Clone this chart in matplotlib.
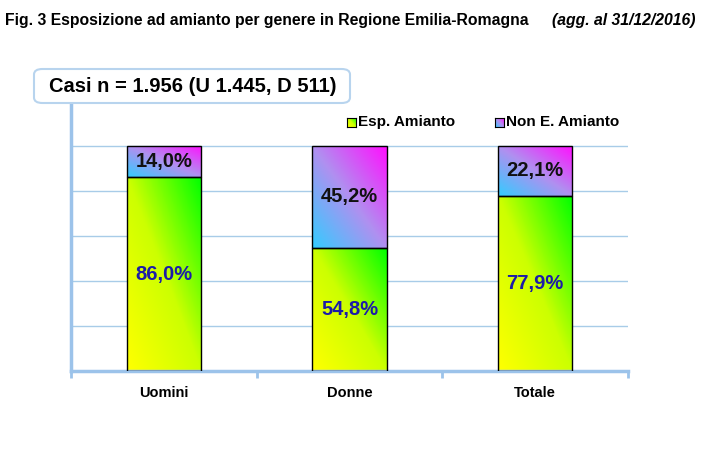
import numpy as np
import matplotlib.pyplot as plt
from matplotlib.colors import LinearSegmentedColormap
from matplotlib.patches import Rectangle, FancyBboxPatch

plt.rcParams['font.family'] = ['Liberation Sans', 'DejaVu Sans']

categories = ['Uomini', 'Donne', 'Totale']
esp_amianto = [86.0, 54.8, 77.9]
non_amianto = [14.0, 45.2, 22.1]
labels_esp = ['86,0%', '54,8%', '77,9%']
labels_non = ['14,0%', '45,2%', '22,1%']

cmap_esp = LinearSegmentedColormap.from_list('esp', ['#ffff00', '#ccff00', '#00ff00'])
cmap_non = LinearSegmentedColormap.from_list('non', ['#33ccff', '#b090f0', '#ff10ff'])

W, H = 708, 454
fig = plt.figure(figsize=(W / 100, H / 100), dpi=100)
ax = fig.add_axes([71 / W, (H - 371) / H, 557 / W, 271 / H])

# diagonal gradient (bottom-left -> top-right)
gx, gy = np.meshgrid(np.linspace(0, 1, 60), np.linspace(0, 1, 120))
grad = (gx + gy) / 2

bw = 0.4
for i in range(len(categories)):
    x0 = i - bw / 2
    segs = [(0, esp_amianto[i], cmap_esp), (esp_amianto[i], esp_amianto[i] + non_amianto[i], cmap_non)]
    for y0, y1, cm in segs:
        im = ax.imshow(grad, cmap=cm, origin='lower', aspect='auto',
                       extent=(x0, x0 + bw, y0, y1), zorder=2, interpolation='bilinear')
        r = Rectangle((x0, y0), bw, y1 - y0, facecolor='none', edgecolor='black', lw=1.0, zorder=3)
        ax.add_patch(r)
        im.set_clip_path(r)
    ax.text(i, esp_amianto[i] / 2, labels_esp[i], ha='center', va='center',
            fontsize=14.5, fontweight='bold', color='#1c1ca8', zorder=4)
    ax.text(i, esp_amianto[i] + non_amianto[i] / 2, labels_non[i], ha='center', va='center',
            fontsize=14.5, fontweight='bold', color='#111111', zorder=4)

ax.set_xlim(-0.5, 2.5)
ax.set_ylim(0, 120.4)
ax.set_yticks([0, 20, 40, 60, 80, 100])
ax.set_yticklabels([])
ax.tick_params(axis='y', length=0)
ax.grid(axis='y', color='#a8cce8', lw=1, zorder=0)
ax.set_xticks(range(len(categories)))
ax.set_xticklabels(categories, fontsize=10.5, fontweight='bold')
ax.set_xticks([-0.5, 0.5, 1.5, 2.5], minor=True)
ax.tick_params(axis='x', which='major', length=0, pad=11)
ax.tick_params(axis='x', which='minor', length=5, width=2, color='#9cc3ea', direction='out')
for s in ['top', 'right']:
    ax.spines[s].set_visible(False)
for s in ['left', 'bottom']:
    ax.spines[s].set_color('#9cc3ea')
    ax.spines[s].set_linewidth(2.5)

# titles
fig.text(5 / W, 1 - 20 / H, 'Fig. 3 Esposizione ad amianto per genere in Regione Emilia-Romagna',
         fontsize=11.3, fontweight='bold', va='center', ha='left')
fig.text(552 / W, 1 - 20 / H, '(agg. al 31/12/2016)', fontsize=11.3, fontweight='bold',
         style='italic', va='center', ha='left')

box = FancyBboxPatch((34 / W, 1 - 103 / H), 316 / W, 34 / H,
                     boxstyle='round,pad=0,rounding_size=0.012', transform=fig.transFigure,
                     facecolor='white', edgecolor='#b8d4ee', lw=1.5, zorder=5)
fig.patches.append(box)
fig.text(193 / W, 1 - 86 / H, 'Casi n = 1.956 (U 1.445, D 511)', fontsize=14.5, fontweight='bold',
         ha='center', va='center', zorder=6)

# legend
leg_items = [(347, cmap_esp, 'Esp. Amianto'), (495, cmap_non, 'Non E. Amianto')]
for px, cm, txt in leg_items:
    lax = fig.add_axes([px / W, 1 - 127 / H, 9 / W, 9 / H])
    lax.imshow(grad, cmap=cm, origin='lower', aspect='auto')
    lax.set_xticks([])
    lax.set_yticks([])
    for sp in lax.spines.values():
        sp.set_linewidth(0.8)
    fig.text((px + 11) / W, 1 - 122 / H, txt, fontsize=11, fontweight='bold', va='center', ha='left')

fig.savefig('out.png', dpi=100)
